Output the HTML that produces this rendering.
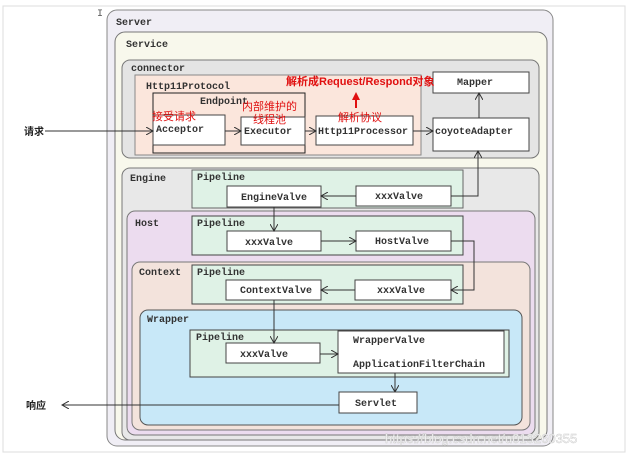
<!DOCTYPE html>
<html><head><meta charset="utf-8"><style>
body{margin:0;background:#fff}
svg{display:block}
.m{font-family:"Liberation Mono",monospace;font-weight:bold;font-size:10px;fill:#333}
.r{font-family:"Liberation Sans","Noto Sans CJK SC",sans-serif;font-size:11px;fill:#e01010}
.k{font-family:"Liberation Sans","Noto Sans CJK SC",sans-serif;font-size:10px;font-weight:bold;fill:#222}
.b{fill:#fff;stroke:#444;stroke-width:1}
</style></head><body>
<svg width="630" height="455" viewBox="0 0 630 455">
<defs><marker id="a" markerWidth="8" markerHeight="8" refX="7" refY="4" orient="auto" markerUnits="userSpaceOnUse"><path d="M0,0 L7,4 L0,8" fill="none" stroke="#333"/></marker>
<marker id="ar" markerWidth="8" markerHeight="10" refX="4" refY="0" orient="auto" markerUnits="userSpaceOnUse"></marker></defs>
<rect x="3" y="6" width="622" height="446" fill="#fff" stroke="#ddd"/>
<text x="97" y="16" class="m" style="font-weight:normal;fill:#555">I</text>
<rect x="107" y="10" width="446" height="436" rx="10" fill="#f0eef5" stroke="#888"/>
<text x="116" y="25" class="m">Server</text>
<rect x="115" y="32" width="432" height="408" rx="10" fill="#f8f8ec" stroke="#777"/>
<text x="126" y="47" class="m">Service</text>
<rect x="122" y="60" width="417" height="98" rx="8" fill="#e4e4e4" stroke="#777"/>
<text x="131" y="71" class="m">connector</text>
<rect x="135" y="75" width="286" height="80" fill="#fbe6dc" stroke="#888"/>
<text x="146" y="89" class="m">Http11Protocol</text>
<rect x="153" y="93" width="152" height="60" fill="none" stroke="#222"/>
<text x="200" y="104" class="m">Endpoint</text>
<rect x="153" y="115" width="72" height="30" class="b"/>
<text x="156" y="132" class="m">Acceptor</text>
<rect x="241" y="117" width="64" height="28" class="b"/>
<text x="244" y="134" class="m">Executor</text>
<rect x="316" y="116" width="97" height="29" class="b"/>
<text x="318" y="134" class="m">Http11Processor</text>
<rect x="433" y="118" width="96" height="33" class="b"/>
<text x="435" y="134" class="m">coyoteAdapter</text>
<rect x="433" y="72" width="96" height="21" class="b"/>
<text x="457" y="85" class="m">Mapper</text>
<text x="152" y="120" class="r">接受请求</text>
<text x="242" y="110" class="r">内部维护的</text>
<text x="253" y="123" class="r">线程池</text>
<text x="338" y="121" class="r">解析协议</text>
<text x="286" y="85" class="r" style="font-weight:bold">解析成Request/Respond对象</text>
<path d="M356,108 L356,98" stroke="#e01010" stroke-width="2"/><path d="M352,100 L356,92 L360,100 Z" fill="#e01010"/>
<text x="24" y="135" class="k">请求</text>
<line x1="45" y1="131" x2="153" y2="131" stroke="#333" marker-end="url(#a)"/>
<line x1="225" y1="131" x2="241" y2="131" stroke="#333" marker-end="url(#a)"/>
<line x1="305" y1="131" x2="316" y2="131" stroke="#333" marker-end="url(#a)"/>
<line x1="413" y1="131" x2="433" y2="131" stroke="#333" marker-end="url(#a)"/>
<line x1="479" y1="118" x2="479" y2="93" stroke="#333" marker-end="url(#a)"/>
<rect x="122" y="168" width="417" height="272" rx="8" fill="#e8e8e8" stroke="#777"/>
<text x="130" y="181" class="m">Engine</text>
<rect x="192" y="170" width="271" height="38" fill="#dff2e6" stroke="#666"/>
<text x="197" y="180" class="m">Pipeline</text>
<rect x="227" y="186" width="94" height="21" class="b"/><text x="241" y="200" class="m">EngineValve</text>
<rect x="356" y="186" width="95" height="20" class="b"/><text x="375" y="199" class="m">xxxValve</text>
<line x1="356" y1="196" x2="321" y2="196" stroke="#333" marker-end="url(#a)"/>
<polyline points="451,196 478,196 478,151" fill="none" stroke="#333" marker-end="url(#a)"/>
<rect x="127" y="211" width="408" height="224" rx="8" fill="#ecdcef" stroke="#777"/>
<text x="135" y="226" class="m">Host</text>
<rect x="192" y="216" width="271" height="39" fill="#dff2e6" stroke="#444"/>
<text x="197" y="226" class="m">Pipeline</text>
<rect x="227" y="231" width="94" height="20" class="b"/><text x="245" y="245" class="m">xxxValve</text>
<rect x="356" y="231" width="95" height="20" class="b"/><text x="375" y="244" class="m">HostValve</text>
<line x1="321" y1="241" x2="356" y2="241" stroke="#333" marker-end="url(#a)"/>
<line x1="274" y1="207" x2="274" y2="231" stroke="#333" marker-end="url(#a)"/>
<rect x="132" y="262" width="398" height="168" rx="8" fill="#f3e3dc" stroke="#777"/>
<text x="139" y="275" class="m">Context</text>
<rect x="192" y="265" width="271" height="39" fill="#dff2e6" stroke="#444"/>
<text x="197" y="275" class="m">Pipeline</text>
<rect x="226" y="280" width="95" height="20" class="b"/><text x="240" y="293" class="m">ContextValve</text>
<rect x="355" y="280" width="96" height="20" class="b"/><text x="377" y="293" class="m">xxxValve</text>
<polyline points="451,241 474,241 474,290 451,290" fill="none" stroke="#333" marker-end="url(#a)"/>
<line x1="355" y1="290" x2="321" y2="290" stroke="#333" marker-end="url(#a)"/>
<rect x="140" y="310" width="382" height="115" rx="8" fill="#c8e8f8" stroke="#555"/>
<text x="147" y="322" class="m">Wrapper</text>
<rect x="190" y="330" width="319" height="47" fill="#dff2e6" stroke="#444"/>
<text x="196" y="340" class="m">Pipeline</text>
<rect x="226" y="343" width="94" height="20" class="b"/><text x="240" y="357" class="m">xxxValve</text>
<rect x="338" y="331" width="166" height="42" class="b"/>
<text x="353" y="343" class="m">WrapperValve</text>
<text x="353" y="367" class="m">ApplicationFilterChain</text>
<line x1="274" y1="300" x2="274" y2="343" stroke="#333" marker-end="url(#a)"/>
<line x1="320" y1="354" x2="338" y2="354" stroke="#333" marker-end="url(#a)"/>
<line x1="395" y1="373" x2="395" y2="392" stroke="#333" marker-end="url(#a)"/>
<rect x="339" y="392" width="78" height="21" class="b"/><text x="355" y="406" class="m">Servlet</text>
<line x1="339" y1="405" x2="62" y2="405" stroke="#333" marker-end="url(#a)"/>
<text x="26" y="409" class="k">响应</text>
<text x="385" y="443" style="font-family:'Liberation Sans',sans-serif;font-size:13px;fill:#fff;stroke:#ccc;stroke-width:0.5">https://blog.csdn.net/u013260355</text>
</svg>
</body></html>
